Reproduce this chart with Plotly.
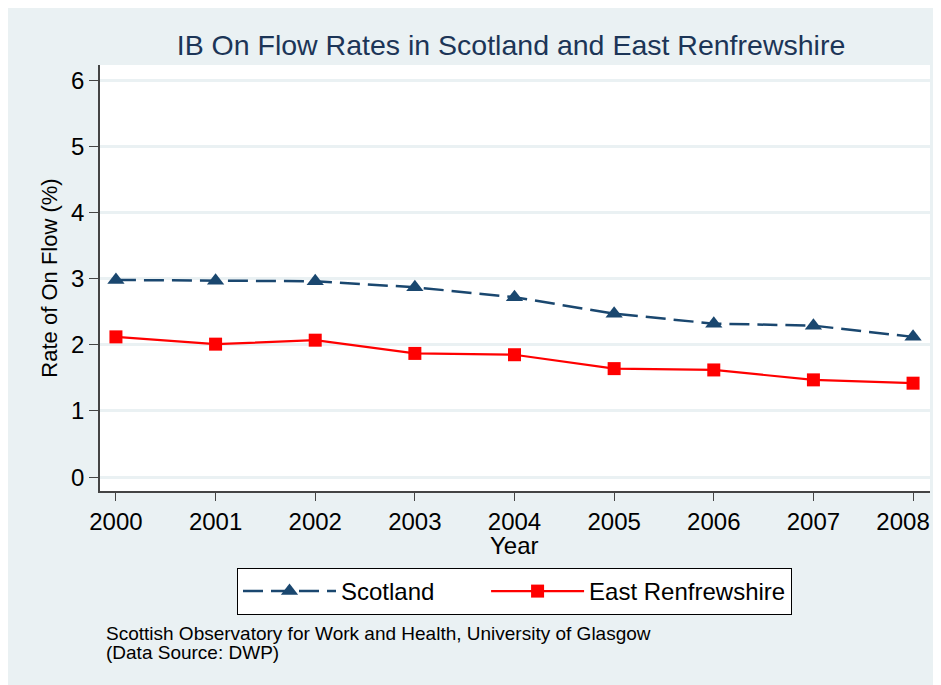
import plotly.graph_objects as go

years = [2000, 2001, 2002, 2003, 2004, 2005, 2006, 2007, 2008]
scotland = [2.98, 2.97, 2.96, 2.87, 2.72, 2.47, 2.32, 2.29, 2.12]
east_renfrewshire = [2.12, 2.01, 2.07, 1.87, 1.85, 1.64, 1.62, 1.47, 1.42]
y_ticks = [0, 1, 2, 3, 4, 5, 6]

OFF = 8  # browser body margin
SW, SH = 941, 685
W, H = SW - OFF, SH - OFF
# screen-pixel plot area
PL, PR, PT, PB = 100, 930, 65, 491
L, R, T, B = PL - OFF, SW - PR, PT - OFF, SH - PB
BG = "#EAF1F3"
NAVY = "#1A476F"
FONT = "Liberation Sans, Arial, sans-serif"
NB = "\u00a0"

# last label padded so it is not clipped at the right page edge
x_ticktext = [str(y) for y in years[:-1]] + [str(years[-1]) + NB * 3]

fig = go.Figure()
fig.add_trace(go.Scatter(
    x=years, y=scotland, name="Scotland" + NB * 7, mode="lines+markers",
    line=dict(color=NAVY, width=2.5, dash="20px,8px"),
    marker=dict(symbol="triangle-up", size=15, color=NAVY),
))
fig.add_trace(go.Scatter(
    x=years, y=east_renfrewshire, name="East Renfrewshire", mode="lines+markers",
    line=dict(color="#FF0000", width=2.2),
    marker=dict(symbol="square", size=13, color="#FF0000"),
))

pw = PR - PL
ph = PB - PT
def px_x(p):
    return (p - PL) / pw
def px_y(p):
    return (PB - p) / ph

fig.update_layout(
    width=W, height=H,
    margin=dict(l=L, r=R, t=T, b=B),
    paper_bgcolor=BG,
    plot_bgcolor="white",
    font=dict(family=FONT, color="black", size=24),
    title=dict(text="IB On Flow Rates in Scotland and East Renfrewshire",
               x=px_x(511), xref="paper", xanchor="center",
               y=1 - (45 - OFF) / H, yanchor="middle",
               font=dict(size=28.5, color="#1C3557", family=FONT)),
    showlegend=True,
    legend=dict(orientation="h", x=px_x(514.5), xanchor="center", y=px_y(568), yanchor="top",
                bgcolor="white", bordercolor="black", borderwidth=1,
                font=dict(size=24, family=FONT), itemwidth=93),
    annotations=[
        dict(text="Year", xref="paper", yref="paper", x=px_x(514), y=px_y(545),
             xanchor="center", yanchor="middle", showarrow=False,
             font=dict(size=24, family=FONT, color="black")),
        dict(text="Scottish Observatory for Work and Health, University of Glasgow",
             xref="paper", yref="paper", x=px_x(104), y=px_y(633), xanchor="left", yanchor="middle",
             showarrow=False, font=dict(size=19, family=FONT, color="black")),
        dict(text="(Data Source: DWP)",
             xref="paper", yref="paper", x=px_x(104), y=px_y(652), xanchor="left", yanchor="middle",
             showarrow=False, font=dict(size=19, family=FONT, color="black")),
    ],
)

fig.update_xaxes(
    range=[1999.84, 2008.17], tickvals=years, ticktext=x_ticktext,
    showgrid=False, zeroline=False, automargin=False,
    showline=True, linecolor="#444444", linewidth=1.5,
    ticks="outside", ticklen=8, tickwidth=1.2, tickcolor="#444444",
    tickfont=dict(size=24), ticklabeloverflow="allow",
)
fig.update_yaxes(
    range=[-0.21, 6.23], tickvals=y_ticks,
    showgrid=True, gridcolor=BG, gridwidth=2.5, zeroline=False, automargin=False,
    showline=True, linecolor="#444444", linewidth=1.5,
    ticks="outside", ticklen=9, tickwidth=1.2, tickcolor="#444444",
    tickfont=dict(size=24),
    title=dict(text="Rate of On Flow (%)", font=dict(size=22), standoff=7),
)

fig.write_html("out.html")
